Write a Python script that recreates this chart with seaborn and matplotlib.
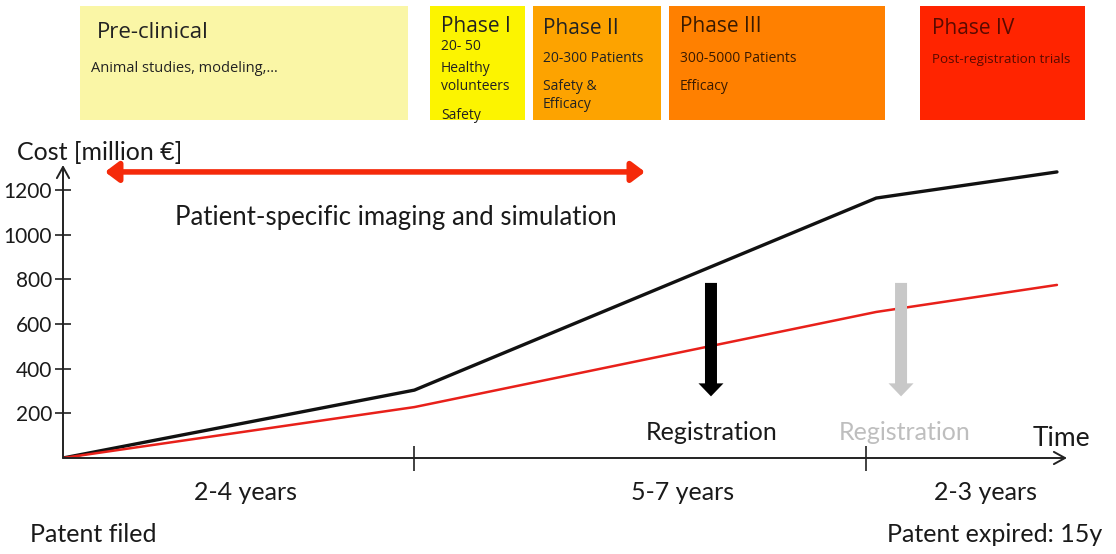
import matplotlib
matplotlib.use("Agg")
import matplotlib.pyplot as plt
from matplotlib.patches import Rectangle
import seaborn as sns
import pandas as pd

# ---------------- data ----------------
years = [0, 3.5, 8.1, 9.9]
cost_conventional = [0, 304, 1164, 1281]
cost_patient_specific = [0, 228, 654, 775]
phase_bounds = [3.5, 8.0]
y_ticks = [200, 400, 600, 800, 1000, 1200]
durations = ["2-4 years", "5-7 years", "2-3 years"]

phases = ["Pre-clinical", "Phase I", "Phase II", "Phase III", "Phase IV"]
phase_details = [
    ["Animal studies, modeling,…"],
    ["20- 50", "Healthy", "volunteers", "Safety"],
    ["20-300 Patients", "Safety &", "Efficacy"],
    ["300-5000 Patients", "Efficacy"],
    ["Post-registration trials"],
]
phase_colors = ["#FAF6A6", "#FCF400", "#FDA300", "#FF8000", "#FF2400"]

# ---------------- figure ----------------
sns.set_theme(style="white")
plt.rcParams["font.family"] = ["Lato", "DejaVu Sans"]

W, H = 1116, 554
fig = plt.figure(figsize=(W / 100, H / 100), dpi=100)


def fx(x):
    return x / W


def fy(y):
    return 1 - y / H


ax = fig.add_axes([fx(63), fy(458), fx(1067) - fx(63), fy(165) - fy(458)])
ax.set_xlim(0, 10)
ax.set_ylim(0, 1312)

df = pd.DataFrame({
    "Time": years * 2,
    "Cost": cost_conventional + cost_patient_specific,
    "Scenario": ["conventional"] * len(years) + ["patient-specific"] * len(years),
})
sns.lineplot(data=df, x="Time", y="Cost", hue="Scenario",
             palette={"conventional": "#111111", "patient-specific": "#E8201A"},
             ax=ax, legend=False, sort=False)
for line, lw in zip(ax.lines, [2.4, 1.8]):
    line.set_linewidth(lw)
    line.set_solid_joinstyle("miter")

for s in ax.spines.values():
    s.set_visible(False)

ax.set_xlabel("")
ax.set_ylabel("")
ax.set_yticks(y_ticks)
ax.set_yticklabels([str(v) for v in y_ticks])
ax.set_xticks(phase_bounds)
ax.set_xticklabels([])
ax.tick_params(axis="y", direction="inout", length=12, width=1.3, colors="#333333",
               labelsize=15, labelcolor="#1a1a1a", pad=2, left=True)
ax.tick_params(axis="x", direction="inout", length=18, width=1.3, colors="#333333",
               bottom=True)

axis_arrow = dict(arrowstyle="->,head_length=0.4,head_width=0.22", color="#222222",
                  lw=1.4, shrinkA=0, shrinkB=0, mutation_scale=20)
ax.annotate("", xy=(1, 0), xytext=(0, 0), xycoords="axes fraction",
            arrowprops=axis_arrow, annotation_clip=False)
ax.annotate("", xy=(0, 1), xytext=(0, 0), xycoords="axes fraction",
            arrowprops=axis_arrow, annotation_clip=False)

# registration arrows
for xc, col in [(6.454, "#000000"), (8.347, "#C8C8C8")]:
    ax.annotate("", xy=(xc, 276), xytext=(xc, 784),
                arrowprops=dict(arrowstyle="simple,head_length=0.52,head_width=1.0,tail_width=0.48",
                                mutation_scale=18, fc=col, ec=col, lw=0,
                                shrinkA=0, shrinkB=0))
ax.text(6.46, 116, "Registration", ha="center", va="center", fontsize=18, color="#1a1a1a")
ax.text(8.38, 116, "Registration", ha="center", va="center", fontsize=18, color="#BEBEBE")
ax.text(9.94, 86, "Time", ha="center", va="center", fontsize=19, color="#1a1a1a")

# patient-specific imaging double arrow
ax.annotate("", xy=(5.797, 1281), xytext=(0.418, 1281),
            arrowprops=dict(arrowstyle="<|-|>,head_length=0.4,head_width=0.3",
                            mutation_scale=20, color="#F52A0A", lw=4,
                            shrinkA=0, shrinkB=0), annotation_clip=False)
ax.text(3.32, 1078, "Patient-specific imaging and simulation", ha="center", va="center",
        fontsize=18.5, color="#1a1a1a")

# labels around axes
fig.text(fx(17), fy(152), "Cost [million €]", ha="left", va="center", fontsize=18, color="#1a1a1a")
for label, xc in zip(durations, [245, 683, 985]):
    fig.text(fx(xc), fy(493), label, ha="center", va="center", fontsize=18, color="#1a1a1a")
fig.text(fx(30), fy(535), "Patent filed", ha="left", va="center", fontsize=18, color="#1a1a1a")
fig.text(fx(1102), fy(535), "Patent expired: 15y", ha="right", va="center", fontsize=18, color="#1a1a1a")

# phase boxes
box_x = [(80, 408), (430, 525), (533, 661), (669, 885), (920, 1085)]
title_xy = [(97, 33), (441, 27), (543, 28), (680, 27), (932, 28)]
title_size = [16, 15, 15, 15, 15]
detail_y = [[69], [47, 68, 87, 115], [59, 87, 105], [59, 87], [59]]
detail_x = [91, 441, 543, 680, 932]
detail_size = [10.5, 10, 10, 10, 9.6]
text_cols = ["#222222", "#222222", "#222222", "#3a1a00", "#5A0A00"]
box_top, box_bottom = 6, 120
for i, name in enumerate(phases):
    x0, x1 = box_x[i]
    fig.add_artist(Rectangle((fx(x0), fy(box_bottom)), fx(x1) - fx(x0), fy(box_top) - fy(box_bottom),
                             transform=fig.transFigure, facecolor=phase_colors[i],
                             edgecolor="none", zorder=0))
    tx, ty = title_xy[i]
    fig.text(fx(tx), fy(ty), name, ha="left", va="center", fontsize=title_size[i],
             color=text_cols[i], family=["Open Sans", "DejaVu Sans"])
    for line, ly in zip(phase_details[i], detail_y[i]):
        fig.text(fx(detail_x[i]), fy(ly), line, ha="left", va="center",
                 fontsize=detail_size[i], color=text_cols[i],
                 family=["Open Sans", "DejaVu Sans"])

fig.savefig("out.png", dpi=100)
